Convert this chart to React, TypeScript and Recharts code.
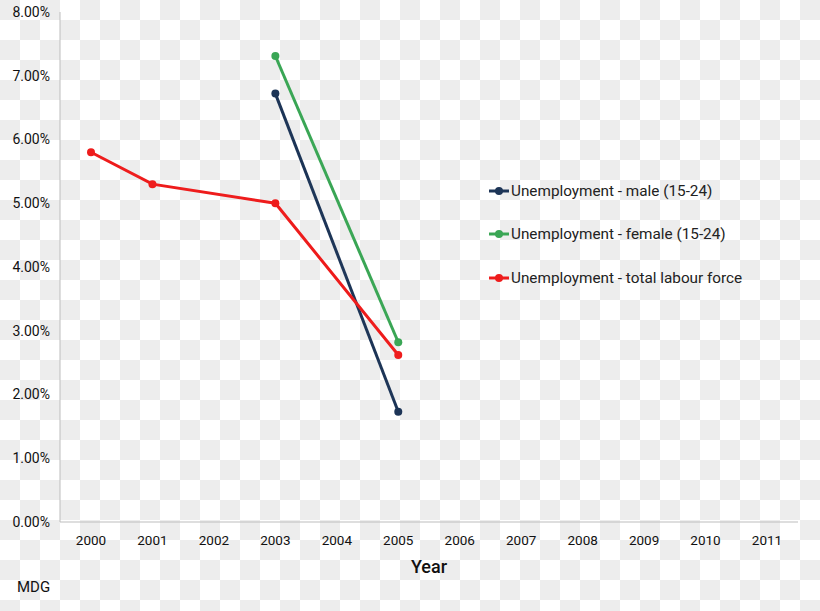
import React from 'react';
import { LineChart, Line, XAxis, YAxis, Label } from 'recharts';

const years = ['2000', '2001', '2002', '2003', '2004', '2005', '2006', '2007', '2008', '2009', '2010', '2011'];
const maleYouth = [null, null, null, 6.72, null, 1.73, null, null, null, null, null, null];
const femaleYouth = [null, null, null, 7.31, null, 2.82, null, null, null, null, null, null];
const totalLabour = [5.8, 5.3, null, 5.0, null, 2.62, null, null, null, null, null, null];
const yTicks = [0, 1, 2, 3, 4, 5, 6, 7, 8];

const series = [
  { key: 'male', name: 'Unemployment - male (15-24)', color: '#1d3557' },
  { key: 'female', name: 'Unemployment - female (15-24)', color: '#3aa655' },
  { key: 'total', name: 'Unemployment - total labour force', color: '#ee1c1c' },
];

const data = years.map((year, i) => ({
  year,
  male: maleYouth[i],
  female: femaleYouth[i],
  total: totalLabour[i],
}));

const FONT = 'Roboto, "Noto Sans", sans-serif';
const CHECK = '#ededed';
const tri = `linear-gradient(45deg, ${CHECK} 25%, transparent 25%, transparent 75%, ${CHECK} 75%)`;

export default function App() {
  return (
    <div
      style={{
        position: 'relative',
        width: 820,
        height: 611,
        overflow: 'hidden',
        backgroundColor: '#fff',
        backgroundImage: `${tri}, ${tri}`,
        backgroundSize: '40px 40px',
        backgroundPosition: '20px 0, 0 20px',
      }}
    >
      <style>{'html, body { margin: 0; padding: 0; overflow: hidden; }'}</style>
      <LineChart width={820} height={611} data={data} margin={{ top: 12, right: 22, bottom: 59, left: 0 }}>
        <XAxis
          dataKey="year"
          height={30}
          padding={{ left: 31, right: 31 }}
          tickLine={false}
          tickMargin={7}
          stroke="#bdbdbd"
          tick={{ fill: '#111', fontSize: 13.5, fontFamily: FONT }}
        >
          <Label value="Year" position="bottom" offset={8} style={{ fontFamily: FONT, fontSize: 18, fill: '#111', fontWeight: 500 }} />
        </XAxis>
        <YAxis
          width={60}
          domain={[0, 8]}
          ticks={yTicks}
          tickLine={false}
          tickMargin={4}
          stroke="#bdbdbd"
          tickFormatter={(v: number) => `${v.toFixed(2)}%`}
          tick={{ fill: '#111', fontSize: 14, fontFamily: FONT }}
        />
        {series.map((s) => (
          <Line
            key={s.key}
            name={s.name}
            dataKey={s.key}
            stroke={s.color}
            strokeWidth={3}
            dot={{ r: 4, fill: s.color, strokeWidth: 0 }}
            connectNulls
            isAnimationActive={false}
          />
        ))}
      </LineChart>
      <div style={{ position: 'absolute', left: 488, top: 169, fontFamily: FONT }}>
        {series.map((s) => (
          <div key={s.key} style={{ display: 'flex', alignItems: 'center', height: 43.5 }}>
            <svg width={22} height={10} style={{ marginRight: 1 }}>
              <line x1={1} y1={5} x2={21} y2={5} stroke={s.color} strokeWidth={3} />
              <circle cx={11} cy={5} r={4} fill={s.color} />
            </svg>
            <span style={{ fontSize: 15.3, color: '#222' }}>{s.name}</span>
          </div>
        ))}
      </div>
      <div style={{ position: 'absolute', left: 17, top: 578, fontFamily: FONT, fontSize: 15, color: '#111' }}>MDG</div>
    </div>
  );
}
